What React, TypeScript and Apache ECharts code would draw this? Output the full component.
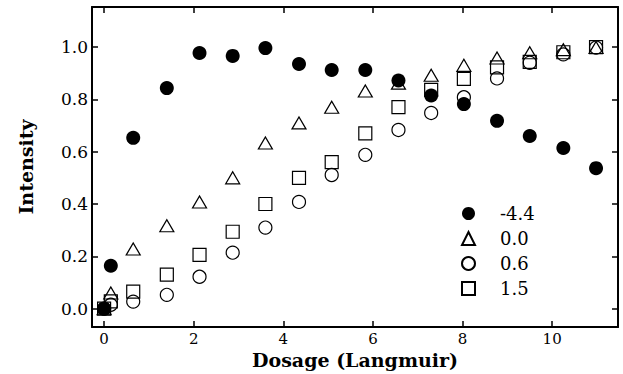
import React, { useEffect, useRef } from "react";
import * as echarts from "echarts";

const dosage = [0, 0.15, 0.65, 1.4, 2.13, 2.87, 3.6, 4.35, 5.08, 5.83, 6.57, 7.3, 8.03, 8.77, 9.5, 10.25, 10.98];
const seriesNeg44 = [0, 0.164, 0.653, 0.843, 0.977, 0.966, 0.996, 0.935, 0.912, 0.912, 0.872, 0.815, 0.782, 0.718, 0.66, 0.614, 0.537];
const series00 = [0, 0.06, 0.228, 0.317, 0.408, 0.5, 0.633, 0.71, 0.77, 0.832, 0.862, 0.892, 0.93, 0.958, 0.978, 0.99, 0.998];
const series06 = [0, 0.015, 0.027, 0.053, 0.122, 0.214, 0.31, 0.408, 0.511, 0.588, 0.683, 0.748, 0.808, 0.88, 0.94, 0.972, 0.998];
const series15 = [0, 0.028, 0.065, 0.13, 0.206, 0.294, 0.4, 0.5, 0.56, 0.67, 0.77, 0.836, 0.878, 0.922, 0.943, 0.98, 1.0];
const xTicks = [0, 2, 4, 6, 8, 10];
const yTicks = [0, 0.2, 0.4, 0.6, 0.8, 1.0];
const legendNames = ["-4.4", "0.0", "0.6", "1.5"];

const FONT = "DejaVu Serif";

export default function App() {
  const ref = useRef<HTMLDivElement>(null);
  useEffect(() => {
    document.body.style.margin = "0";
    if (!ref.current) return;
    const chart = echarts.init(ref.current, undefined, { renderer: "svg" });
    const pts = (ys: number[]) => dosage.map((x, i) => [x, ys[i]]);
    const axisLine = { show: true, onZero: false, lineStyle: { color: "#000", width: 2 } };
    const tickStyle = { show: true, inside: true, length: 6, lineStyle: { color: "#000", width: 1.5 } };
    const xBase = { type: "value", min: -0.27, max: 11.47, splitLine: { show: false }, axisLine };
    const yBase = { type: "value", min: -0.07, max: 1.153, splitLine: { show: false }, axisLine };
    const hollow = { color: "transparent", borderColor: "#000", borderWidth: 1.2, opacity: 1 };
    chart.setOption({
      animation: false,
      backgroundColor: "#fff",
      textStyle: { fontFamily: FONT },
      grid: { left: 92, top: 7, right: 5, bottom: 47, outerBoundsMode: "none", containLabel: false },
      legend: {
        orient: "vertical",
        left: 456,
        top: 198,
        itemWidth: 13,
        itemHeight: 13,
        itemGap: 4,
        data: legendNames,
        textStyle: { fontFamily: FONT, fontSize: 18, color: "#000", lineHeight: 21, padding: [0, 0, 0, 20] },
      },
      xAxis: [
        {
          ...xBase,
          position: "bottom",
          name: "Dosage (Langmuir)",
          nameLocation: "middle",
          nameGap: 23,
          nameMoveOverlap: false,
          nameTextStyle: { fontFamily: FONT, fontSize: 19, fontWeight: "bold", color: "#000" },
          axisTick: { ...tickStyle, customValues: xTicks },
          axisLabel: { customValues: xTicks, fontFamily: FONT, fontSize: 15, color: "#000", margin: 4 },
        },
        {
          ...xBase,
          position: "top",
          axisTick: { ...tickStyle, customValues: xTicks },
          axisLabel: { show: false },
        },
      ],
      yAxis: [
        {
          ...yBase,
          position: "left",
          name: "Intensity",
          nameLocation: "middle",
          nameGap: 57,
          nameMoveOverlap: false,
          nameTextStyle: { fontFamily: FONT, fontSize: 19, fontWeight: "bold", color: "#000" },
          axisTick: { ...tickStyle, customValues: yTicks },
          axisLabel: {
            customValues: yTicks,
            fontFamily: FONT,
            fontSize: 17,
            color: "#000",
            margin: 4,
            formatter: (v: number) => v.toFixed(1),
          },
        },
        {
          ...yBase,
          position: "right",
          axisTick: { ...tickStyle, customValues: yTicks },
          axisLabel: { show: false },
        },
      ],
      series: [
        { name: "1.5", type: "scatter", symbol: "rect", symbolSize: 13, itemStyle: hollow, data: pts(series15) },
        { name: "0.6", type: "scatter", symbol: "circle", symbolSize: 13, itemStyle: hollow, data: pts(series06) },
        { name: "0.0", type: "scatter", symbol: "triangle", symbolSize: [14, 12], itemStyle: hollow, data: pts(series00) },
        { name: "-4.4", type: "scatter", symbol: "circle", symbolSize: 14, itemStyle: { color: "#000", opacity: 1 }, data: pts(seriesNeg44) },
      ],
    });
    return () => chart.dispose();
  }, []);
  return <div ref={ref} style={{ width: 623, height: 374 }} />;
}
